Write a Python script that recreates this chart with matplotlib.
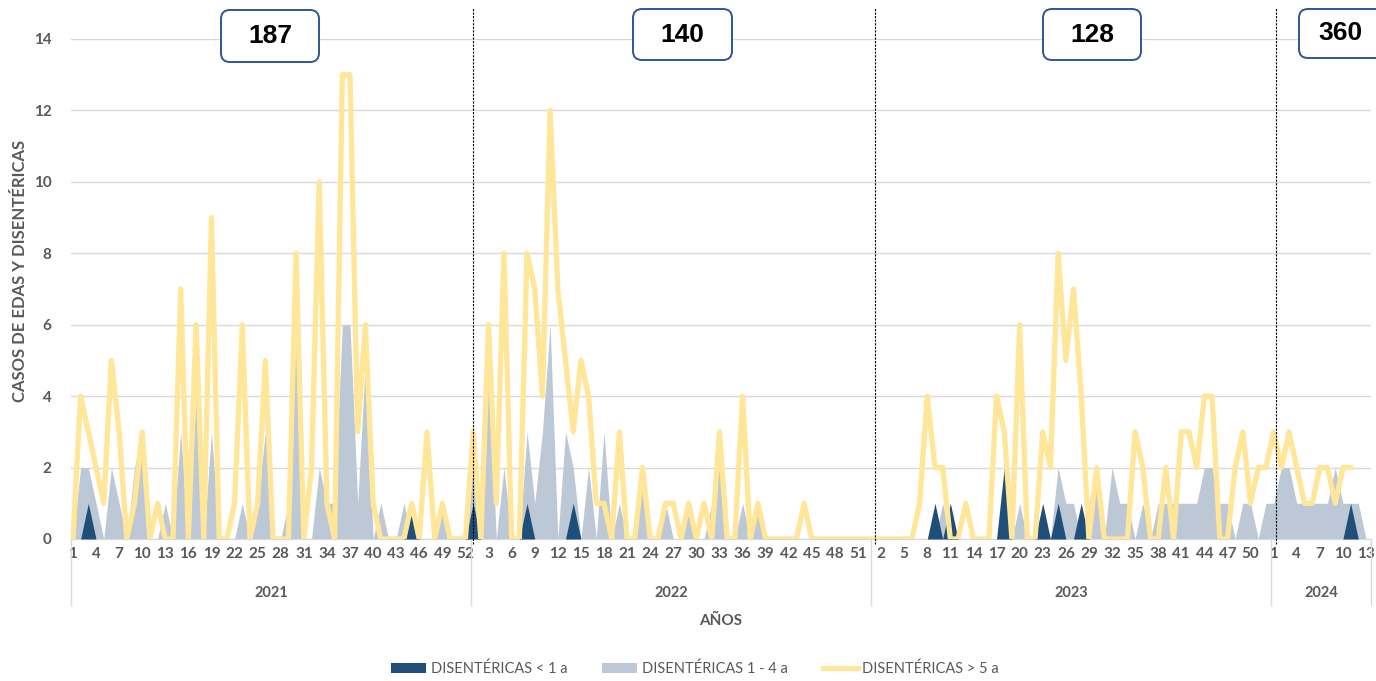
import numpy as np
import matplotlib
matplotlib.use("Agg")
import matplotlib.pyplot as plt
from matplotlib.patches import FancyBboxPatch, Patch
from matplotlib.lines import Line2D
from matplotlib.transforms import IdentityTransform, blended_transform_factory

# --- data (weekly cases per epidemiological week) ---
years = ["2021", "2022", "2023", "2024"]
n_weeks = [52, 52, 52, 13]
totals = ["187", "140", "128", "360"]

# DISENTÉRICAS < 1 a
menor1_2021 = [0,0,1,0,0,0,0,0,0,0, 0,0,0,0,0,0,0,0,0,0, 0,0,0,0,0,0,0,0,0,0,
               0,0,0,0,0,0,0,0,0,0, 0,0,0,0,1,0,0,0,0,0, 0,0]
menor1_2022 = [1,0,0,0,0,0,0,1,0,0, 0,0,0,1,0,0,0,0,0,0, 0,0,0,0,0,0,0,0,0,0,
               0,0,0,0,0,0,0,0,0,0, 0,0,0,0,0,0,0,0,0,0, 0,0]
menor1_2023 = [0,0,0,0,0,0,0,0,1,0, 1,0,0,0,0,0,0,2,0,0, 0,0,1,0,1,0,0,1,0,0,
               0,0,0,0,0,0,0,0,0,0, 0,0,0,0,0,0,0,0,0,0, 0,0]
menor1_2024 = [0,0,0,0,0,0,0,0,0,0, 1,0,0]

# DISENTÉRICAS 1 - 4 a
de1a4_2021 = [0,2,2,1,0,2,1,0,2,3, 0,0,1,0,3,0,4,0,3,0, 0,0,1,0,1,3,0,0,1,6,
              0,0,2,1,1,6,6,1,5,0, 1,0,0,1,0,0,0,0,1,0, 0,0]
de1a4_2022 = [2,0,5,0,2,0,0,3,1,3, 6,0,3,2,0,2,0,3,0,1, 0,0,2,0,0,1,0,0,1,0,
              0,1,2,0,0,1,0,1,0,0, 0,0,0,0,0,0,0,0,0,0, 0,0]
de1a4_2023 = [0,0,0,0,0,0,0,0,0,1, 0,0,0,0,0,0,0,0,0,1, 0,0,0,0,2,1,1,0,1,2,
              0,2,1,1,0,1,0,1,1,1, 1,1,1,2,2,1,1,0,1,1, 0,1]
de1a4_2024 = [1,2,2,1,1,1,1,1,2,1, 1,1,0]

# DISENTÉRICAS > 5 a
mayor5_2021 = [0,4,3,2,1,5,3,0,1,3, 0,1,0,0,7,0,6,0,9,0, 0,1,6,0,1,5,0,0,0,8,
               0,2,10,1,0,13,13,3,6,1, 0,0,0,0,1,0,3,0,1,0, 0,0]
mayor5_2022 = [3,0,6,1,8,0,0,8,7,4, 12,7,5,3,5,4,1,1,0,3, 0,0,2,0,0,1,1,0,1,0,
               1,0,3,0,0,4,0,1,0,0, 0,0,0,1,0,0,0,0,0,0, 0,0]
mayor5_2023 = [0,0,0,0,0,0,1,4,2,2, 0,0,1,0,0,0,4,3,0,6, 0,0,3,2,8,5,7,4,0,2,
               0,0,0,0,3,2,0,0,2,0, 3,3,2,4,4,0,0,2,3,1, 2,2]
mayor5_2024 = [3,2,3,2,1,1,2,2,1,2, 2,np.nan,np.nan]

menor1 = np.array(menor1_2021 + menor1_2022 + menor1_2023 + menor1_2024, dtype=float)
de1a4 = np.array(de1a4_2021 + de1a4_2022 + de1a4_2023 + de1a4_2024, dtype=float)
mayor5 = np.array(mayor5_2021 + mayor5_2022 + mayor5_2023 + mayor5_2024, dtype=float)

weeks = [w for n in n_weeks for w in range(1, n + 1)]
x = np.arange(len(weeks))
starts = np.cumsum([0] + n_weeks)

# --- style ---
W, H = 1376, 681
C_DARK = "#1F4E79"
C_GRAY = "#BCC8D6"
C_YEL = "#FFE699"
C_TXT = "#595959"
C_GRID = "#D9D9D9"
FONT = "Lato"

fig = plt.figure(figsize=(W / 100, H / 100), dpi=100)
ax = fig.add_axes([71 / W, 1 - 539 / H, 1300 / W, 500 / H])

ax.fill_between(x, de1a4, 0, color=C_GRAY, lw=0, zorder=2)
ax.fill_between(x, menor1, 0, color=C_DARK, lw=0, zorder=3)
ax.plot(x, mayor5, color=C_YEL, lw=3.8, zorder=4, solid_joinstyle="round")

ax.set_xlim(-0.25, 168.65)
ax.set_ylim(0, 14)
ax.set_yticks(range(0, 15, 2))
ax.yaxis.grid(True, color=C_GRID, lw=1)
ax.set_axisbelow(True)
for s in ["top", "right", "left"]:
    ax.spines[s].set_visible(False)
ax.spines["bottom"].set_color(C_GRID)

ax.set_xticks(x[::3])
ax.set_xticklabels([str(weeks[i]) for i in x[::3]])
ax.tick_params(axis="both", length=0, colors=C_TXT)
ax.tick_params(axis="x", pad=6)
ax.tick_params(axis="y", pad=14)
for lab in ax.get_xticklabels() + ax.get_yticklabels():
    lab.set_fontfamily(FONT)
    lab.set_fontweight("bold")
    lab.set_fontsize(11)

# year grouping under the axis
tr = blended_transform_factory(ax.transData, ax.transAxes)
seps = [-0.25] + [s - 0.28 for s in starts[1:-1]] + [168.65]
for sx in seps:
    ax.plot([sx, sx], [0, -0.132], transform=tr, color=C_GRID, lw=1, clip_on=False)
for i, yr in enumerate(years):
    ax.text((seps[i] + seps[i + 1]) / 2, -0.108, yr, transform=tr, ha="center", va="center",
            fontsize=10.5, fontweight="bold", color=C_TXT, family=FONT)

# dashed year dividers
for sx in [51.98, 104.2, 156.3]:
    ax.plot([sx, sx], [-0.01, 1.062], transform=tr, color="black", lw=0.8,
            ls=(0, (2, 1.2)), clip_on=False, zorder=5)

fig.text(721 / W, 1 - 621 / H, "AÑOS", ha="center", va="center", fontsize=11,
         fontweight="bold", color=C_TXT, family=FONT)
fig.text(20 / W, 1 - 271 / H, "CASOS DE EDAS Y DISENTÉRICAS", rotation=90, ha="center",
         va="center", fontsize=12, fontweight="bold", color=C_TXT, family=FONT)

# total boxes
boxes = [(221, 10, 98, 52, 270), (633, 9, 99, 51, 682), (1043, 9, 98, 51, 1092), (1299, 9, 98, 49, 1340)]
for (bx, by, bw, bh, tx), tot in zip(boxes, totals):
    p = FancyBboxPatch((bx, H - by - bh), bw, bh, boxstyle="round,pad=0,rounding_size=9",
                       transform=IdentityTransform(), fc="white", ec="#2F5597", lw=1.4)
    fig.add_artist(p)
    fig.text(tx / W, 1 - (by + bh / 2) / H, tot, ha="center", va="center", fontsize=19,
             fontweight="bold", color="black", family="Liberation Sans")

handles = [Patch(facecolor=C_DARK, label="DISENTÉRICAS < 1 a"),
           Patch(facecolor=C_GRAY, label="DISENTÉRICAS 1 - 4 a"),
           Line2D([0], [0], color=C_YEL, lw=3.6, label="DISENTÉRICAS > 5 a")]
leg = fig.legend(handles=handles, loc="center", bbox_to_anchor=(695 / W, 1 - 669 / H), ncol=3,
                 frameon=False, handlelength=2.4, handleheight=0.7, handletextpad=0.3,
                 columnspacing=2.4, prop={"family": FONT, "size": 10.5})
for t in leg.get_texts():
    t.set_color(C_TXT)

fig.savefig("out.png", dpi=100)
